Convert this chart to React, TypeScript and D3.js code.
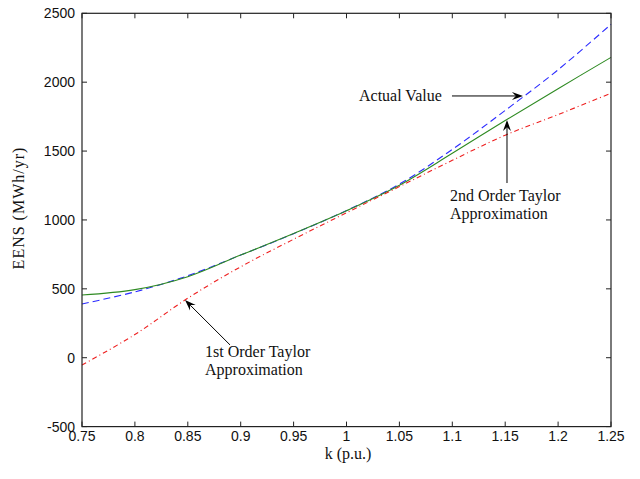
import React from "react";
import * as d3 from "d3";

const kValues = [0.75, 0.8, 0.85, 0.9, 0.95, 1.0, 1.05, 1.1, 1.15, 1.2, 1.25];
const actualValue = [390, 478, 595, 745, 900, 1068, 1260, 1512, 1795, 2090, 2420];
const secondOrder = [455, 494, 588, 745, 902, 1067, 1252, 1484, 1722, 1953, 2180];
const firstOrder = [-53, 168, 432, 660, 860, 1052, 1242, 1433, 1615, 1765, 1920];

const xTicks = [0.75, 0.8, 0.85, 0.9, 0.95, 1, 1.05, 1.1, 1.15, 1.2, 1.25];
const yTicks = [-500, 0, 500, 1000, 1500, 2000, 2500];

const W = 640;
const H = 479;
const M = { left: 82, right: 29, top: 13.3, bottom: 52.4 };

function Arrow({ x1, y1, x2, y2 }: { x1: number; y1: number; x2: number; y2: number }) {
  const ang = Math.atan2(y2 - y1, x2 - x1);
  const L = 11;
  const Wd = 4;
  const ux = Math.cos(ang), uy = Math.sin(ang);
  const px = -uy, py = ux;
  const bx = x2 - ux * L, by = y2 - uy * L;
  const nx = x2 - ux * L * 0.65, ny = y2 - uy * L * 0.65;
  const d = `M${x2},${y2} L${bx + px * Wd},${by + py * Wd} L${nx},${ny} L${bx - px * Wd},${by - py * Wd} Z`;
  return (
    <g>
      <line x1={x1} y1={y1} x2={nx} y2={ny} stroke="#000" strokeWidth={1} />
      <path d={d} fill="#000" />
    </g>
  );
}

export default function App() {
  const x = d3.scaleLinear().domain([0.75, 1.25]).range([M.left, W - M.right]);
  const y = d3.scaleLinear().domain([-500, 2500]).range([H - M.bottom, M.top]);
  const line = (vals: number[]) =>
    d3
      .line<number>()
      .x((_, i) => x(kValues[i]))
      .y((v) => y(v))
      .curve(d3.curveCatmullRom.alpha(0.5))(vals) as string;

  const x0 = x(0.75), x1 = x(1.25), y0 = y(-500), y1 = y(2500);
  const tl = 5;
  const serif = "'Liberation Serif', 'Times New Roman', serif";
  const sans = "'Liberation Sans', Arial, sans-serif";

  return (
    <svg
      width={W}
      height={H}
      style={{ position: "absolute", left: 0, top: 0, background: "#fff" }}
    >
      <rect x={0} y={0} width={W} height={H} fill="#fff" />
      <path d={line(actualValue)} fill="none" stroke="#2b2bff" strokeWidth={1.1} strokeDasharray="7,4" />
      <path d={line(secondOrder)} fill="none" stroke="#2e8a22" strokeWidth={1.1} />
      <path d={line(firstOrder)} fill="none" stroke="#ee2020" strokeWidth={1.1} strokeDasharray="5,3,1,3" />

      <rect x={x0} y={y1} width={x1 - x0} height={y0 - y1} fill="none" stroke="#222" strokeWidth={1.2} />
      {xTicks.map((t) => (
        <g key={"x" + t}>
          <line x1={x(t)} x2={x(t)} y1={y0} y2={y0 - tl} stroke="#222" />
          <line x1={x(t)} x2={x(t)} y1={y1} y2={y1 + tl} stroke="#222" />
          <text x={x(t)} y={441} textAnchor="middle" fontFamily={sans} fontSize={14} fill="#111">
            {String(t)}
          </text>
        </g>
      ))}
      {yTicks.map((t) => (
        <g key={"y" + t}>
          <line x1={x0} x2={x0 + tl} y1={y(t)} y2={y(t)} stroke="#222" />
          <line x1={x1} x2={x1 - tl} y1={y(t)} y2={y(t)} stroke="#222" />
          <text x={75} y={y(t)} dy="0.35em" textAnchor="end" fontFamily={sans} fontSize={14} fill="#111">
            {String(t)}
          </text>
        </g>
      ))}
      <text x={348} y={459} textAnchor="middle" fontFamily={serif} fontSize={16} fill="#111">
        k (p.u.)
      </text>
      <text
        transform={`translate(24, 208) rotate(-90)`}
        textAnchor="middle"
        fontFamily={serif}
        fontSize={16}
        letterSpacing={1}
        fill="#111"
      >
        EENS (MWh/yr)
      </text>

      <text x={359} y={100.7} fontFamily={serif} fontSize={16} fill="#111">Actual Value</text>
      <Arrow x1={x(1.0997)} y1={y(1900)} x2={x(1.1668)} y2={y(1900)} />

      <text x={450} y={200.7} fontFamily={serif} fontSize={16} fill="#111">2nd Order Taylor</text>
      <text x={450} y={219} fontFamily={serif} fontSize={16} fill="#111">Approximation</text>
      <Arrow x1={x(1.1517)} y1={y(1268)} x2={x(1.1517)} y2={y(1725)} />

      <text x={205} y={357} fontFamily={serif} fontSize={16} fill="#111">1st Order Taylor</text>
      <text x={205} y={375} fontFamily={serif} fontSize={16} fill="#111">Approximation</text>
      <Arrow x1={x(0.8899)} y1={y(93)} x2={x(0.8474)} y2={y(419)} />
    </svg>
  );
}
